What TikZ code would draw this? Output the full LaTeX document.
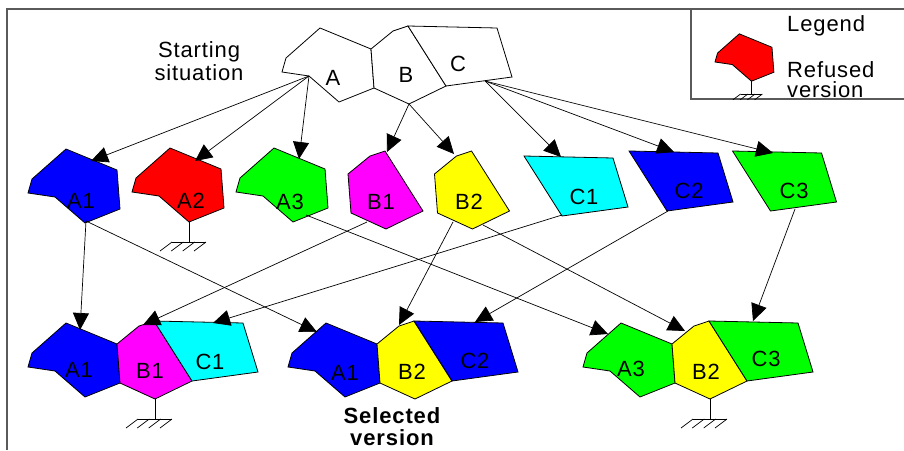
\documentclass[tikz,border=0pt]{standalone}
\usepackage{fontspec}
\setmainfont{Liberation Sans}[LetterSpace=4]
\usetikzlibrary{arrows.meta}
\definecolor{pz_red}{RGB}{255,0,0}
\definecolor{pz_green}{RGB}{0,255,0}
\definecolor{pz_blue}{RGB}{0,0,255}
\definecolor{pz_yellow}{RGB}{255,255,0}
\definecolor{pz_magenta}{RGB}{255,0,255}
\definecolor{pz_cyan}{RGB}{0,255,255}
\definecolor{pz_frame}{RGB}{90,90,90}
\tikzstyle{pc}=[draw=black,line width=0.8pt]
\tikzstyle{lb}=[font=\fontsize{22}{23}\selectfont,inner sep=0pt]
\tikzstyle{ar}=[-{Triangle[length=17pt,width=16pt]},line width=0.7pt]
\tikzstyle{gnd}=[line width=0.7pt]
\tikzstyle{frm}=[draw=pz_frame,line width=1.6pt]
% the three pieces of the puzzle, #1 = shift, #2 = colour
\newcommand{\pieceA}[2]{\filldraw[pc,fill=#2,shift={#1}] (282,72) -- (286,58)
  -- (320,28) -- (371,49) -- (374,88) -- (339,102) -- (309,76) -- cycle;}
\newcommand{\pieceB}[2]{\filldraw[pc,fill=#2,shift={#1}] (371,49) -- (393,31)
  -- (408,26) -- (446,86) -- (409,104) -- (374,88) -- cycle;}
\newcommand{\pieceC}[2]{\filldraw[pc,fill=#2,shift={#1}] (408,26) -- (497,28)
  -- (512,77) -- (446,86) -- cycle;}
\newcommand{\ground}[1]{\draw[gnd] #1 -- ++(0,20) ++(-17,0) -- ++(34,0);
  \foreach \d in {-17,-5.7,5.7,17} \draw[gnd] #1 ++(\d,20) -- ++(-12,9);}

\begin{document}
\begin{tikzpicture}[x=1pt,y=-1pt]
    \useasboundingbox (0,0) rectangle (904,450);
    \draw[frm] (7,450) -- (7,9) -- (904,9);
    \draw[frm] (904,99) -- (691,99) -- (691,9);

    % legend
    \begin{scope}[shift={(715,62)},scale=0.64,shift={(-282,-72)}]
        \pieceA{(0,0)}{pz_red}
        \ground{(339,102)}
    \end{scope}
    \node [style=lb,anchor=base west] (leg) at (787,31) {Legend};
    \node [style=lb,anchor=base west,align=left,font=\fontsize{22}{20}\selectfont] (ref) at (787,97) {Refused\\version};

    % starting situation
    \pieceA{(0,0)}{white}
    \pieceB{(0,0)}{white}
    \pieceC{(0,0)}{white}
    \node [style=lb] (a) at (333,78) {A};
    \node [style=lb] (b) at (406,75) {B};
    \node [style=lb] (c) at (458,64) {C};
    \node [style=lb,anchor=base,align=center] (start) at (199,80) {Starting\\situation};
    \coordinate (A) at (309,76);
    \coordinate (B) at (409,104);
    \coordinate (C) at (485,81);

    % versions
    \pieceA{(-254,121)}{pz_blue}
    \pieceA{(-150,120)}{pz_red}
    \pieceA{(-46,120)}{pz_green}
    \pieceB{(-23,125)}{pz_magenta}
    \pieceB{(63.5,125)}{pz_yellow}
    \pieceC{(116,130)}{pz_cyan}
    \pieceC{(221,125)}{pz_blue}
    \pieceC{(324.5,125)}{pz_green}
    \ground{(189,222)}
    \node [style=lb] (a1) at (81,201) {A1};
    \node [style=lb] (a2) at (191,201) {A2};
    \node [style=lb] (a3) at (290,202) {A3};
    \node [style=lb] (b1) at (381,202) {B1};
    \node [style=lb] (b2) at (469,202) {B2};
    \node [style=lb] (c1) at (584,197) {C1};
    \node [style=lb] (c2) at (689,191) {C2};
    \node [style=lb] (c3) at (794,191) {C3};

    % combinations
    \pieceA{(-254,295)}{pz_blue}
    \pieceB{(-254,295)}{pz_magenta}
    \pieceC{(-254,295)}{pz_cyan}
    \pieceA{(6,295)}{pz_blue}
    \pieceB{(6,295)}{pz_yellow}
    \pieceC{(6,295)}{pz_blue}
    \pieceA{(301,295)}{pz_green}
    \pieceB{(301,295)}{pz_yellow}
    \pieceC{(301,295)}{pz_green}
    \ground{(155,399)}
    \ground{(710,399)}
    \node [style=lb] (pa) at (79,370) {A1};
    \node [style=lb] (pb) at (150,371) {B1};
    \node [style=lb] (pc) at (210,362) {C1};
    \node [style=lb] (qa) at (345,373) {A1};
    \node [style=lb] (qb) at (412,372) {B2};
    \node [style=lb] (qc) at (475,361) {C2};
    \node [style=lb] (ra) at (631,369) {A3};
    \node [style=lb] (rb) at (706,372) {B2};
    \node [style=lb] (rc) at (766,359) {C3};
    \node [style=lb,anchor=base,align=center,font=\fontsize{22}{22}\selectfont\bfseries] (sel) at (392,445) {Selected\\version};

    % arrow ends
    \coordinate (A1t) at (91,161);
    \coordinate (A2t) at (195,161);
    \coordinate (A3t) at (299,159);
    \coordinate (B1t) at (387,152);
    \coordinate (B2t) at (454,154);
    \coordinate (C1t) at (561,157);
    \coordinate (C2t) at (674,152);
    \coordinate (C3t) at (773,153);
    \coordinate (A1b) at (86,221);
    \coordinate (A3b) at (306,215);
    \coordinate (B1b) at (367,222);
    \coordinate (B2l) at (453,222);
    \coordinate (B2r) at (483,225);
    \coordinate (C1b) at (562,215);
    \coordinate (C2b) at (668,211);
    \coordinate (C3b) at (795,209);
    \coordinate (pA) at (80,330);
    \coordinate (pB) at (143,325);
    \coordinate (pC) at (213,323);
    \coordinate (qA) at (317,332);
    \coordinate (qB) at (399,325);
    \coordinate (qC) at (475,322);
    \coordinate (rA) at (608,334);
    \coordinate (rB) at (685,331);
    \coordinate (rC) at (753,321);

    \draw[ar] (A) -- (A1t);
    \draw[ar] (A) -- (A2t);
    \draw[ar] (A) -- (A3t);
    \draw[ar] (B) -- (B1t);
    \draw[ar] (B) -- (B2t);
    \draw[ar] (C) -- (C1t);
    \draw[ar] (C) -- (C2t);
    \draw[ar] (C) -- (C3t);
    \draw[ar] (A1b) -- (pA);
    \draw[ar] (A1b) -- (qA);
    \draw[ar] (A3b) -- (rA);
    \draw[ar] (B1b) -- (pB);
    \draw[ar] (C1b) -- (pC);
    \draw[ar] (B2l) -- (qB);
    \draw[ar] (B2r) -- (rB);
    \draw[ar] (C2b) -- (qC);
    \draw[ar] (C3b) -- (rC);
\end{tikzpicture}
\end{document}
